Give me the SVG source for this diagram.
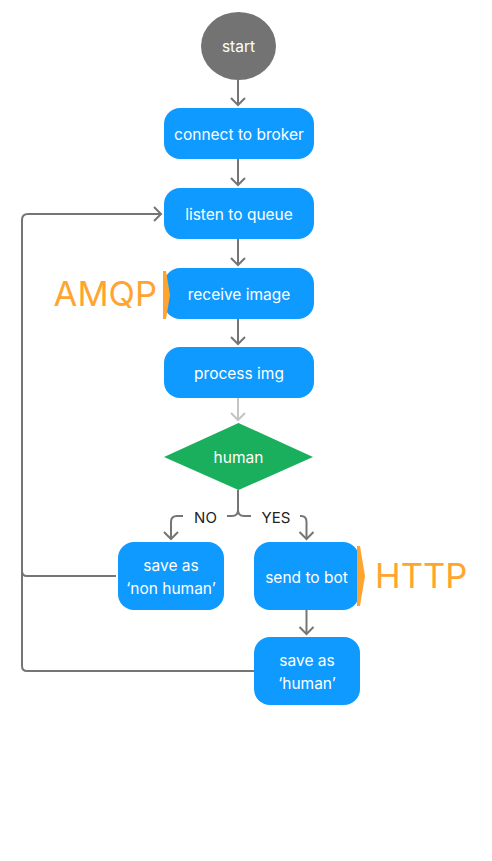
<svg xmlns="http://www.w3.org/2000/svg" width="492" height="861" viewBox="0 0 492 861">
<style>
.box{fill:#0f9aff}
.t{font-family:Inter,"Noto Sans",sans-serif;font-size:15.5px;fill:#ffffff;text-anchor:middle}
.c{fill:none;stroke:#757575;stroke-width:2}
.lt{stroke:#c4c4c4}
.lbl{font-family:Inter,"Noto Sans",sans-serif;font-size:15px;fill:#222222}
.or{font-family:Inter,"Noto Sans",sans-serif;font-size:34.5px;fill:#ffa52f}
.port{fill:#ffa52f}
</style>
<defs>
<marker id="ah" markerUnits="userSpaceOnUse" markerWidth="20" markerHeight="20" refX="10" refY="10" orient="auto" overflow="visible">
<path d="M3,3 L10,10 L3,17" fill="none" stroke="#757575" stroke-width="2"/>
</marker>
<marker id="ahl" markerUnits="userSpaceOnUse" markerWidth="20" markerHeight="20" refX="10" refY="10" orient="auto" overflow="visible">
<path d="M3,3 L10,10 L3,17" fill="none" stroke="#c4c4c4" stroke-width="2"/>
</marker>
</defs>
<rect width="492" height="861" fill="#ffffff"/>
<g id="connectors">
<path class="c" d="M238,80 V105" marker-end="url(#ah)"/>
<path class="c" d="M238,159 V185" marker-end="url(#ah)"/>
<path class="c" d="M238,239 V265" marker-end="url(#ah)"/>
<path class="c" d="M238,319 V344" marker-end="url(#ah)"/>
<path class="c lt" d="M238,398 V420" marker-end="url(#ahl)"/>
<path class="c" d="M238,490 V510 Q238,516 232,516 H227"/>
<path class="c" d="M238,510 Q238,516 244,516 H251"/>
<path class="c" d="M183,516 H177 Q171,516 171,522 V539" marker-end="url(#ah)"/>
<path class="c" d="M300,516 H301 Q306.5,516 306.5,522 V539" marker-end="url(#ah)"/>
<path class="c" d="M306.5,610 V634" marker-end="url(#ah)"/>
<path class="c" d="M116,576 H27 Q22,576 22,571"/>
<path class="c" d="M254,671 H27 Q22,671 22,666 V220 Q22,214 28,214 H161" marker-end="url(#ah)"/>
<text class="lbl" x="205.5" y="522.5" text-anchor="middle">NO</text>
<text class="lbl" x="276" y="522.5" text-anchor="middle">YES</text>
</g>
<g id="start">
<ellipse cx="238.5" cy="46" rx="37.5" ry="34" fill="#737373"/>
<text class="t" x="238.5" y="51.5">start</text>
</g>
<g id="connect">
<rect class="box" x="164" y="108" width="150" height="51" rx="16"/>
<text class="t" x="239" y="139.5">connect to broker</text>
</g>
<g id="listen">
<rect class="box" x="164" y="188" width="150" height="51" rx="16"/>
<text class="t" x="239" y="219.5">listen to queue</text>
</g>
<g id="receive">
<rect class="box" x="164" y="268" width="150" height="51" rx="16"/>
<text class="t" x="239" y="299.5">receive image</text>
<polygon class="port" points="163,271 166,271 170,295 166,319 163,319"/>
<text class="or" x="157" y="305.5" text-anchor="end">AMQP</text>
</g>
<g id="process">
<rect class="box" x="164" y="347" width="150" height="51" rx="16"/>
<text class="t" x="239" y="378.5">process img</text>
</g>
<g id="human">
<polygon points="164,457 238.5,423 313,457 238.5,490" fill="#1aaf5d"/>
<text class="t" x="238.5" y="462.5">human</text>
</g>
<g id="savenon">
<rect class="box" x="118" y="542" width="106" height="68" rx="16"/>
<text class="t" x="171" y="570.5">save as</text>
<text class="t" x="171" y="593.5">‘non human’</text>
</g>
<g id="sendbot">
<rect class="box" x="254" y="542" width="105" height="68" rx="16"/>
<text class="t" x="306.5" y="582.5">send to bot</text>
<polygon class="port" points="357,546 360,546 365,576 360,606 357,606"/>
<text class="or" x="375" y="588">HTTP</text>
</g>
<g id="savehuman">
<rect class="box" x="254" y="637" width="106" height="68" rx="16"/>
<text class="t" x="307" y="665.5">save as</text>
<text class="t" x="307" y="688.5">‘human’</text>
</g>
</svg>
